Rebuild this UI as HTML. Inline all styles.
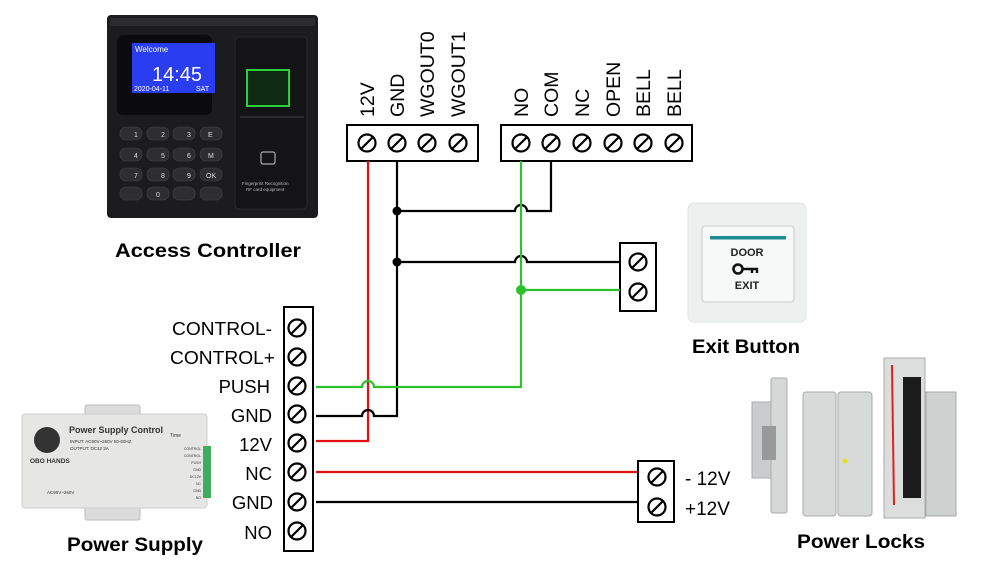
<!DOCTYPE html>
<html><head><meta charset="utf-8"><style>
html,body{margin:0;padding:0;background:#fff;}
svg{display:block;}
text{font-family:"Liberation Sans",Arial,sans-serif;}
</style></head><body>
<svg width="1000" height="578" viewBox="0 0 1000 578" xmlns="http://www.w3.org/2000/svg">
<defs>
<g id="sc"><circle r="8.5" fill="#fff" stroke="#000" stroke-width="2.2"/><line x1="-5.5" y1="5.5" x2="5.5" y2="-5.5" stroke="#000" stroke-width="2.2"/></g>
</defs>

<!-- Access controller device -->
<rect x="107" y="15" width="211" height="203" rx="4" fill="#1c1c1e"/>
<rect x="110" y="18" width="205" height="8" fill="#2c2c2e"/>
<rect x="117" y="35" width="95" height="80" rx="6" fill="#0b0b0d"/>
<rect x="132" y="43" width="83" height="50" fill="#2a3df0"/>
<text x="135" y="52" font-size="8" fill="#fff">Welcome</text>
<text x="152" y="81" font-size="20" fill="#fff">14:45</text>
<text x="134" y="91" font-size="7" fill="#fff">2020-04-11</text>
<text x="196" y="91" font-size="7" fill="#fff">SAT</text>
<g fill="#2e2e31" stroke="#444" stroke-width="0.6">
<rect x="120" y="127" width="22" height="13" rx="6"/><rect x="147" y="127" width="22" height="13" rx="6"/><rect x="173" y="127" width="22" height="13" rx="6"/><rect x="200" y="127" width="22" height="13" rx="6"/>
<rect x="120" y="148" width="22" height="13" rx="6"/><rect x="147" y="148" width="22" height="13" rx="6"/><rect x="173" y="148" width="22" height="13" rx="6"/><rect x="200" y="148" width="22" height="13" rx="6"/>
<rect x="120" y="168" width="22" height="13" rx="6"/><rect x="147" y="168" width="22" height="13" rx="6"/><rect x="173" y="168" width="22" height="13" rx="6"/><rect x="200" y="168" width="22" height="13" rx="6"/>
<rect x="120" y="187" width="22" height="13" rx="6"/><rect x="147" y="187" width="22" height="13" rx="6"/><rect x="173" y="187" width="22" height="13" rx="6"/><rect x="200" y="187" width="22" height="13" rx="6"/>
</g>
<g font-size="7" fill="#ddd"><text x="134" y="137">1</text><text x="161" y="137">2</text><text x="187" y="137">3</text><text x="208" y="137">E</text>
<text x="134" y="158">4</text><text x="161" y="158">5</text><text x="187" y="158">6</text><text x="208" y="158">M</text>
<text x="134" y="178">7</text><text x="161" y="178">8</text><text x="187" y="178">9</text><text x="206" y="178">OK</text><text x="156" y="197">0</text></g>
<rect x="235" y="37" width="72" height="172" rx="4" fill="#141416" stroke="#2a2a2c"/>
<rect x="247" y="70" width="42" height="36" fill="#0e2a10" stroke="#2bd13a" stroke-width="2"/>
<rect x="240" y="116" width="64" height="2" fill="#2c2c2e"/>
<rect x="261" y="152" width="14" height="12" rx="2" fill="none" stroke="#aaa" stroke-width="1.2"/>
<text x="242" y="185" font-size="4.5" fill="#bbb">Fingerprint Recognition</text>
<text x="246" y="191" font-size="4.5" fill="#bbb">RF card equipment</text>
<text x="115" y="257" font-size="19" font-weight="bold" textLength="186" lengthAdjust="spacingAndGlyphs">Access Controller</text>

<!-- Exit button -->
<rect x="688" y="203" width="118" height="119" rx="6" fill="#eef0f0" stroke="#dfe3e3"/>
<rect x="702" y="226" width="92" height="76" rx="3" fill="#f7f8f8" stroke="#c8cccc"/>
<rect x="710" y="236" width="76" height="3.5" fill="#1c8b93"/>
<text x="747" y="256" font-size="11" font-weight="bold" text-anchor="middle" fill="#222">DOOR</text>
<circle cx="738" cy="269" r="4.5" fill="none" stroke="#111" stroke-width="2.6"/>
<path d="M742 269h15v4M752 269v4" stroke="#111" stroke-width="2.4" fill="none"/>
<text x="747" y="289" font-size="11" font-weight="bold" text-anchor="middle" fill="#222">EXIT</text>
<text x="692" y="353" font-size="19" font-weight="bold" textLength="108" lengthAdjust="spacingAndGlyphs">Exit Button</text>

<!-- Power supply device -->
<rect x="85" y="405" width="55" height="115" rx="2" fill="#dcdcdc" stroke="#bbb"/>
<rect x="22" y="414" width="185" height="94" rx="3" fill="#e6e6e4" stroke="#cfcfcf"/>
<circle cx="47" cy="440" r="13" fill="#333"/>
<text x="30" y="463" font-size="6.5" font-weight="bold" fill="#333">OBO HANDS</text>
<text x="69" y="433" font-size="9" font-weight="bold" fill="#333">Power Supply Control</text>
<text x="70" y="443" font-size="4.5" fill="#333">INPUT: AC90V~260V 50-60HZ</text>
<text x="70" y="450" font-size="4.5" fill="#333">OUTPUT: DC12 3A</text>
<text x="170" y="437" font-size="5" fill="#333">Time</text>
<rect x="203" y="446" width="8" height="52" fill="#3eae5e"/>
<g font-size="3.5" fill="#333" text-anchor="end"><text x="201" y="450">CONTROL</text><text x="201" y="457">CONTROL</text><text x="201" y="464">PUSH</text><text x="201" y="471">GND</text><text x="201" y="478">DC12V</text><text x="201" y="485">NC</text><text x="201" y="492">GND</text><text x="201" y="499">NO</text></g>
<text x="47" y="494" font-size="4.5" fill="#333">AC90V~260V</text>
<text x="67" y="551" font-size="19" font-weight="bold" textLength="136" lengthAdjust="spacingAndGlyphs">Power Supply</text>

<!-- Power locks -->
<rect x="752" y="402" width="22" height="76" fill="#c9cccc" stroke="#aaa"/>
<rect x="771" y="378" width="16" height="135" rx="2" fill="#d6d8d8" stroke="#aaa"/>
<rect x="762" y="426" width="14" height="34" fill="#999"/>
<rect x="803" y="392" width="33" height="124" rx="3" fill="#d8dada" stroke="#aaa"/>
<rect x="838" y="392" width="34" height="124" rx="3" fill="#d8dada" stroke="#aaa"/>
<circle cx="845" cy="461" r="2.5" fill="#e5e020"/>
<rect x="884" y="358" width="41" height="160" fill="#dcdede" stroke="#aaa"/>
<line x1="892" y1="365" x2="894" y2="505" stroke="#d22" stroke-width="2"/>
<rect x="903" y="377" width="18" height="121" fill="#1b1b1b"/>
<rect x="926" y="392" width="30" height="124" fill="#cfd1d1" stroke="#aaa"/>
<text x="797" y="548" font-size="19" font-weight="bold" textLength="128" lengthAdjust="spacingAndGlyphs">Power Locks</text>

<!-- Top terminal blocks -->
<rect x="347" y="125" width="131" height="36" fill="#fff" stroke="#000" stroke-width="2"/>
<rect x="501" y="125" width="191" height="36" fill="#fff" stroke="#000" stroke-width="2"/>
<use href="#sc" x="367" y="143"/><use href="#sc" x="397" y="143"/><use href="#sc" x="427" y="143"/><use href="#sc" x="458" y="143"/>
<use href="#sc" x="521" y="143"/><use href="#sc" x="551" y="143"/><use href="#sc" x="582" y="143"/><use href="#sc" x="613" y="143"/><use href="#sc" x="643" y="143"/><use href="#sc" x="674" y="143"/>
<g font-size="19.5">
<text transform="translate(374,117) rotate(-90)">12V</text>
<text transform="translate(404,117) rotate(-90)">GND</text>
<text transform="translate(434,117) rotate(-90)">WGOUT0</text>
<text transform="translate(465,117) rotate(-90)">WGOUT1</text>
<text transform="translate(528,117) rotate(-90)">NO</text>
<text transform="translate(558,117) rotate(-90)">COM</text>
<text transform="translate(589,117) rotate(-90)">NC</text>
<text transform="translate(620,117) rotate(-90)">OPEN</text>
<text transform="translate(650,117) rotate(-90)">BELL</text>
<text transform="translate(681,117) rotate(-90)">BELL</text>
</g>

<!-- Exit terminal -->
<rect x="620" y="243" width="36" height="68" fill="#fff" stroke="#000" stroke-width="2"/>
<use href="#sc" x="638" y="262"/><use href="#sc" x="638" y="292"/>

<!-- Wires -->
<g fill="none" stroke-width="2.2">
<path d="M368 161V441H316" stroke="#e01010"/>
<path d="M397 161V416H374a6 6 0 0 0-12 0H316" stroke="#000"/>
<path d="M397 211H515a6 6 0 0 1 12 0H551V161" stroke="#000"/>
<path d="M397 262H515a6 6 0 0 1 12 0H620" stroke="#000"/>
<path d="M521 161V387H374a6 6 0 0 0-12 0H316" stroke="#2cc22c"/>
<path d="M521 290H620" stroke="#2cc22c"/>
<path d="M316 472H638" stroke="#e01010"/>
<path d="M316 502H638" stroke="#000"/>
</g>
<circle cx="397" cy="211" r="4.5"/><circle cx="397" cy="262" r="4.5"/>
<circle cx="521" cy="290" r="5" fill="#2cc22c"/>

<!-- PSU terminal -->
<rect x="284" y="307" width="29" height="244" fill="#fff" stroke="#000" stroke-width="2"/>
<use href="#sc" x="297" y="328"/><use href="#sc" x="297" y="357"/><use href="#sc" x="297" y="386"/><use href="#sc" x="297" y="414"/><use href="#sc" x="297" y="443"/><use href="#sc" x="297" y="472"/><use href="#sc" x="297" y="502"/><use href="#sc" x="297" y="531"/>
<g font-size="18.5" text-anchor="end">
<text x="272" y="335" textLength="100" lengthAdjust="spacingAndGlyphs">CONTROL-</text>
<text x="275" y="364" textLength="105" lengthAdjust="spacingAndGlyphs">CONTROL+</text>
<text x="270" y="393">PUSH</text>
<text x="272" y="422">GND</text>
<text x="272" y="451">12V</text>
<text x="272" y="480">NC</text>
<text x="273" y="509">GND</text>
<text x="272" y="539">NO</text>
</g>

<!-- Lock terminal -->
<rect x="638" y="461" width="36" height="61" fill="#fff" stroke="#000" stroke-width="2"/>
<use href="#sc" x="657" y="477"/><use href="#sc" x="657" y="507"/>
<text x="685" y="485" font-size="19">- 12V</text>
<text x="685" y="515" font-size="19">+12V</text>
</svg>
</body></html>
